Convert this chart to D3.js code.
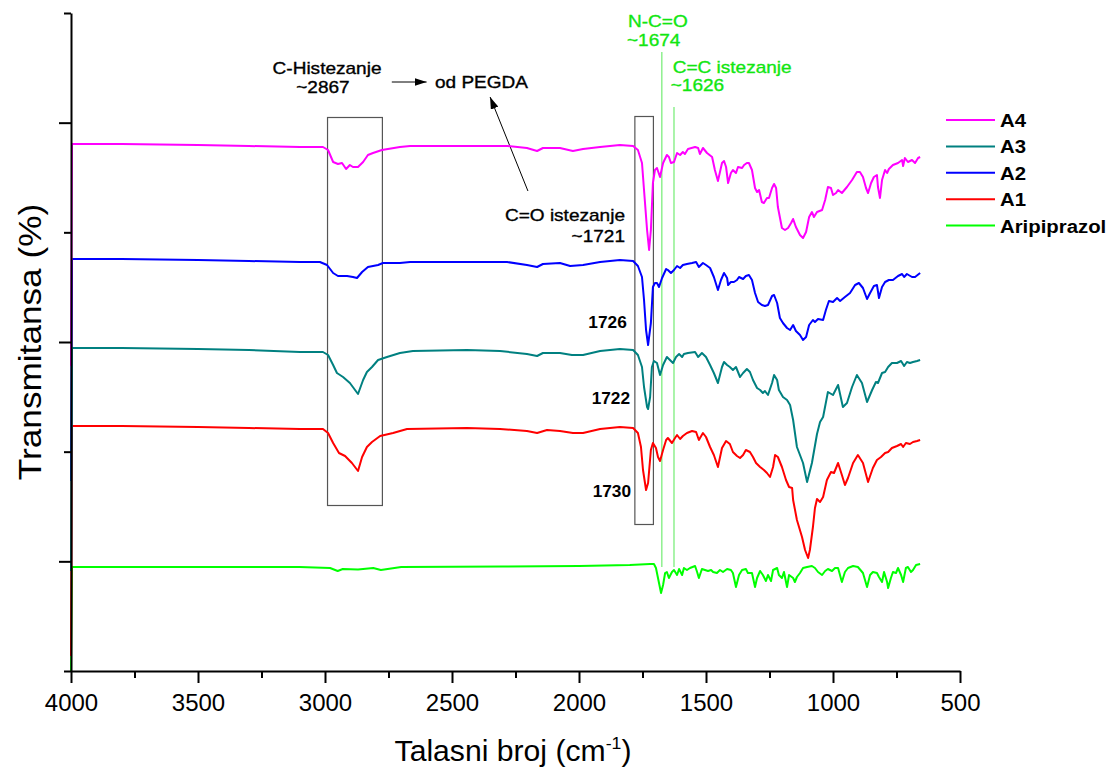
<!DOCTYPE html>
<html>
<head>
<meta charset="utf-8">
<script src="https://cdn.jsdelivr.net/npm/d3@7"></script>
<style>
  body { margin: 0; background: #fff; }
  svg { display: block; }
  text { font-family: "Liberation Sans", Arial, Helvetica, sans-serif; }
</style>
</head>
<body>
<svg id="chart" width="1112" height="772"></svg>
<script>
// ---- FTIR spectra: [wavenumber (cm-1), stacked transmittance] ----
const a4 = [
  [4000,30.5],[3996,52.7],[3800,52.7],[3500,52.6],[3300,52.5],[3098,52.4],[3008,52.4],[2988,52.1],
  [2968,50.9],[2949,50.7],[2933,50.8],[2917,50.2],[2902,50.6],[2890,50.4],[2870,50.4],[2850,50.9],
  [2831,51.6],[2811,51.8],[2776,52.1],[2705,52.4],[2665,52.5],[2441,52.5],[2283,52.5],[2205,52.3],
  [2165,52.0],[2142,52.3],[2075,52.3],[2024,52.0],[1984,52.2],[1917,52.4],[1839,52.6],[1787,52.5],
  [1768,52.1],[1752,50.8],[1744,48.1],[1732,44.1],[1724,42.1],[1717,44.1],[1709,48.8],[1701,50.1],
  [1693,50.3],[1681,49.4],[1669,50.8],[1654,51.6],[1646,51.4],[1638,50.8],[1626,50.9],[1614,51.8],
  [1602,51.6],[1591,51.9],[1583,51.7],[1571,52.2],[1543,52.4],[1531,52.3],[1524,51.7],[1512,52.3],
  [1496,51.8],[1476,51.4],[1465,50.1],[1453,49.0],[1437,50.8],[1429,51.0],[1421,50.4],[1413,48.8],
  [1402,49.8],[1394,50.1],[1382,49.8],[1374,50.4],[1358,50.3],[1350,50.6],[1339,50.8],[1331,50.8],
  [1319,50.1],[1307,48.3],[1299,47.9],[1291,48.1],[1280,46.9],[1272,46.8],[1260,47.3],[1252,47.3],
  [1240,48.3],[1232,48.7],[1224,48.3],[1217,46.4],[1201,44.3],[1189,44.1],[1177,44.3],[1165,44.8],
  [1157,45.2],[1146,44.4],[1130,43.6],[1118,43.3],[1106,43.9],[1094,45.4],[1083,45.9],[1075,45.4],
  [1063,45.9],[1043,46.1],[1031,47.1],[1020,48.4],[1008,48.3],[1000,47.6],[988,47.8],[980,48.1],
  [965,47.8],[945,48.4],[925,49.1],[906,49.9],[894,49.9],[882,49.4],[870,48.3],[862,47.8],
  [850,48.8],[839,49.4],[827,49.6],[823,48.4],[815,47.3],[807,49.1],[795,50.1],[787,49.8],
  [780,50.2],[764,50.6],[744,50.8],[728,51.1],[724,50.5],[717,51.3],[705,50.9],[689,51.1],
  [677,50.8],[665,51.3],[657,51.4]
];

const a3 = [
  [4000,10.0],[3996,32.3],[3800,32.3],[3500,32.2],[3300,32.1],[3098,31.9],[3008,31.9],[2988,31.6],
  [2968,30.6],[2953,29.8],[2929,29.4],[2902,28.8],[2870,27.7],[2850,29.1],[2835,29.9],[2815,30.4],
  [2791,31.1],[2756,31.4],[2705,31.8],[2654,32.0],[2441,32.1],[2311,32.0],[2205,31.7],[2165,31.5],
  [2142,31.8],[2075,31.8],[2028,31.6],[1984,31.6],[1917,32.0],[1839,32.2],[1787,32.1],[1768,31.6],
  [1752,30.4],[1744,28.4],[1732,26.4],[1728,26.2],[1720,27.4],[1713,30.4],[1705,31.0],[1693,30.8],
  [1681,29.6],[1669,30.6],[1654,31.4],[1646,31.2],[1630,30.8],[1618,31.4],[1606,31.7],[1594,31.4],
  [1587,31.7],[1571,31.8],[1543,31.9],[1531,31.4],[1516,31.8],[1500,31.4],[1484,30.6],[1469,29.8],
  [1453,28.8],[1437,30.4],[1429,30.9],[1417,30.6],[1406,30.4],[1394,30.1],[1382,30.4],[1366,29.4],
  [1354,29.8],[1339,30.2],[1327,29.9],[1315,29.1],[1299,28.3],[1287,28.1],[1276,27.8],[1268,28.0],
  [1256,27.6],[1240,28.8],[1232,29.6],[1220,29.1],[1213,28.1],[1197,27.4],[1181,27.1],[1169,26.6],
  [1157,25.1],[1142,22.4],[1118,20.8],[1102,18.9],[1083,20.8],[1063,23.7],[1051,24.9],[1039,25.4],
  [1020,27.9],[1000,27.6],[980,28.6],[961,26.4],[945,26.8],[925,28.4],[906,29.6],[886,28.8],
  [866,26.9],[846,28.1],[831,28.9],[823,28.8],[807,29.8],[795,29.9],[783,30.4],[768,30.8],
  [748,30.8],[732,31.0],[720,30.5],[709,30.9],[697,30.8],[685,30.9],[669,31.0],[657,31.1]
];

const a2 = [
  [4000,19.0],[3996,41.2],[3800,41.2],[3500,41.1],[3300,41.0],[3098,40.9],[3020,40.9],[2992,40.6],
  [2968,39.8],[2949,39.5],[2913,39.5],[2890,39.4],[2874,39.3],[2854,39.9],[2831,40.4],[2791,40.6],
  [2772,40.8],[2705,40.8],[2665,40.9],[2441,40.9],[2283,40.9],[2205,40.6],[2165,40.4],[2142,40.7],
  [2075,40.8],[2035,40.5],[1984,40.6],[1917,40.9],[1839,41.1],[1787,41.0],[1768,40.5],[1752,39.4],
  [1744,37.1],[1736,34.1],[1728,32.6],[1717,34.8],[1709,38.4],[1701,38.8],[1693,38.8],[1685,38.4],
  [1673,39.3],[1657,40.2],[1650,40.1],[1638,39.8],[1626,40.1],[1614,40.5],[1602,40.3],[1591,40.6],
  [1575,40.7],[1555,40.8],[1539,40.9],[1528,40.4],[1512,40.8],[1500,40.6],[1484,40.3],[1469,39.4],
  [1453,38.1],[1441,39.1],[1429,39.8],[1417,39.3],[1413,38.6],[1402,38.9],[1390,38.9],[1378,39.1],
  [1370,39.4],[1354,39.2],[1343,39.5],[1331,39.6],[1319,39.1],[1307,37.8],[1295,36.9],[1280,36.6],
  [1268,36.5],[1256,36.6],[1240,37.5],[1232,37.6],[1220,36.8],[1209,35.3],[1197,34.8],[1181,34.3],
  [1169,34.1],[1157,34.6],[1146,34.0],[1130,33.6],[1118,33.1],[1106,33.4],[1094,34.6],[1079,35.1],
  [1071,34.9],[1059,35.2],[1039,35.1],[1028,36.1],[1016,37.0],[1000,36.9],[984,37.3],[972,37.0],
  [953,37.4],[933,37.8],[913,38.6],[898,38.8],[882,38.3],[866,37.2],[854,37.8],[839,38.5],
  [827,38.6],[819,37.3],[807,38.4],[795,38.9],[780,39.1],[764,39.1],[744,39.5],[728,39.7],
  [720,39.4],[709,39.7],[689,39.4],[677,39.4],[657,39.8]
];

const a1 = [
  [4000,1.5],[3996,24.5],[3800,24.5],[3500,24.4],[3300,24.3],[3098,24.2],[3008,24.2],[2988,23.8],
  [2968,22.8],[2945,21.8],[2921,21.5],[2894,20.8],[2870,20.0],[2854,21.4],[2835,22.4],[2815,22.9],
  [2783,23.5],[2732,23.8],[2677,24.2],[2441,24.3],[2311,24.2],[2205,24.0],[2165,23.8],[2126,24.1],
  [2075,24.0],[2024,23.8],[1984,23.8],[1917,24.2],[1839,24.4],[1787,24.3],[1768,23.8],[1756,22.4],
  [1748,20.1],[1736,18.1],[1728,18.8],[1717,22.1],[1709,22.8],[1697,22.3],[1689,21.4],[1681,21.0],
  [1669,22.1],[1657,23.1],[1650,23.3],[1634,22.8],[1622,23.3],[1614,23.6],[1602,23.2],[1591,23.5],
  [1575,23.8],[1555,24.0],[1539,23.9],[1528,23.1],[1512,23.8],[1500,23.4],[1484,22.4],[1469,21.6],
  [1453,20.4],[1437,22.3],[1421,23.0],[1406,22.7],[1394,21.9],[1378,21.5],[1366,21.3],[1354,21.6],
  [1343,22.1],[1327,21.9],[1315,21.4],[1303,20.8],[1287,20.4],[1272,20.1],[1260,19.8],[1248,19.4],
  [1236,20.4],[1228,21.6],[1217,21.4],[1201,20.4],[1185,19.1],[1173,18.4],[1161,18.3],[1157,17.1],
  [1142,15.1],[1122,13.4],[1110,12.1],[1098,11.3],[1091,12.1],[1079,14.4],[1071,16.3],[1063,17.2],
  [1051,16.9],[1039,17.4],[1024,19.1],[1008,19.9],[996,19.8],[980,20.8],[965,19.6],[953,18.6],
  [941,19.3],[921,20.8],[902,21.6],[882,20.8],[862,18.9],[843,20.3],[827,21.1],[811,21.4],
  [795,21.8],[783,21.9],[768,22.3],[748,22.5],[732,22.7],[724,22.4],[713,22.8],[697,22.7],
  [685,22.9],[669,23.0],[657,23.1]
];

const aripiprazol = [
  [4000,0.0],[3996,10.4],[3800,10.4],[3500,10.4],[3300,10.4],[3100,10.4],[2980,10.3],[2950,10.0],
  [2930,10.2],[2870,10.15],[2810,10.3],[2780,10.1],[2700,10.4],[2300,10.45],[2000,10.5],[1800,10.6],
  [1720,10.7],[1705,10.7],[1697,10.3],[1689,9.3],[1677,7.8],[1669,8.6],[1661,9.8],[1654,9.9],
  [1646,9.3],[1634,9.9],[1626,10.1],[1614,9.6],[1606,10.2],[1594,9.6],[1587,10.3],[1575,10.1],
  [1563,10.3],[1543,10.5],[1535,9.9],[1528,9.3],[1516,10.2],[1504,10.1],[1492,10.0],[1480,10.1],
  [1472,9.9],[1457,9.8],[1445,10.1],[1433,9.9],[1417,10.2],[1402,10.1],[1394,9.8],[1382,8.4],
  [1370,9.6],[1358,10.1],[1343,10.2],[1335,9.8],[1319,9.8],[1307,8.4],[1299,9.3],[1287,10.0],
  [1276,9.6],[1264,9.0],[1256,9.6],[1244,9.0],[1236,10.1],[1220,10.3],[1213,9.6],[1201,9.3],
  [1193,9.9],[1181,8.4],[1173,9.6],[1157,9.3],[1150,8.9],[1142,9.4],[1130,9.8],[1118,10.3],
  [1102,10.4],[1083,10.5],[1071,10.3],[1059,9.9],[1043,9.6],[1031,10.0],[1020,10.2],[1004,10.0],
  [992,10.3],[980,10.3],[965,8.9],[953,9.9],[941,10.3],[921,10.5],[902,10.4],[882,9.8],
  [874,9.1],[866,8.4],[854,9.6],[843,9.9],[827,9.8],[819,9.4],[807,8.9],[799,9.9],
  [787,8.9],[783,8.3],[772,9.3],[764,9.9],[752,9.8],[744,10.3],[732,9.6],[724,8.9],
  [713,10.3],[705,10.4],[693,9.9],[685,10.1],[673,10.6],[657,10.7]
];

// Legend order (top to bottom); drawn in reverse so A4 sits on top
const seriesNames  = ["A4", "A3", "A2", "A1", "Aripiprazol"];
const seriesData   = [a4, a3, a2, a1, aripiprazol];
const seriesColors = ["#ff00ff", "#008080", "#0000ff", "#ff0000", "#00ff00"];

// Axes
const xDomain = [4000, 500];
const xMajorTicks = [4000, 3500, 3000, 2500, 2000, 1500, 1000, 500];
const xMinorTicks = [3750, 3250, 2750, 2250, 1750, 1250, 750];
const yDomain = [0, 65.8];
const yTickStep = 65.8 / 6;
const yTicks = d3.range(7).map(i => i * yTickStep);
const xTitle = "Talasni broj (cm";
const xTitleSup = "-1";
const yTitle = "Transmitansa (%)";

// Annotations (wavenumber / transmittance coordinates)
const boxes = [
  { from: 2992, to: 2776, top: 55.4, bottom: 16.6 },
  { from: 1782, to: 1709, top: 55.5, bottom: 14.7 }
];
const markerLines = [
  { wn: 1674, top: 61.9, bottom: 10.4 },
  { wn: 1626, top: 56.4, bottom: 10.4 }
];
const arrows = [
  { x1: 2737, y1: 58.9, x2: 2600, y2: 58.9 },
  { x1: 2201, y1: 48.0, x2: 2350, y2: 57.4 }
];
const notes = [
  { text: "C-Histezanje",   wn: 2992, t: 59.75, anchor: "middle", color: "#000", bold: false },
  { text: "~2867",          wn: 3008, t: 57.8,  anchor: "middle", color: "#000", bold: false },
  { text: "od PEGDA",       wn: 2567, t: 58.3,  anchor: "start",  color: "#000", bold: false },
  { text: "C=O istezanje",  wn: 1819, t: 45.0,  anchor: "end",    color: "#000", bold: false },
  { text: "~1721",          wn: 1819, t: 42.9,  anchor: "end",    color: "#000", bold: false },
  { text: "1726",           wn: 1812, t: 34.35, anchor: "end",    color: "#000", bold: true },
  { text: "1722",           wn: 1799, t: 26.7,  anchor: "end",    color: "#000", bold: true },
  { text: "1730",           wn: 1795, t: 17.4,  anchor: "end",    color: "#000", bold: true },
  { text: "N-C=O",          wn: 1807, t: 64.4,  anchor: "start",  color: "#11e611", bold: false },
  { text: "~1674",          wn: 1811, t: 62.55, anchor: "start",  color: "#11e611", bold: false },
  { text: "C=C istezanje",  wn: 1631, t: 59.85, anchor: "start",  color: "#11e611", bold: false },
  { text: "~1626",          wn: 1639, t: 58.05, anchor: "start",  color: "#11e611", bold: false }
];

// ---- drawing ----
const svg = d3.select("#chart");
const x = d3.scaleLinear().domain(xDomain).range([71, 960]);
const y = d3.scaleLinear().domain(yDomain).range([671, 13]);

// text with a slight horizontal stretch
function stretchedText(parent, px, py, str, opts) {
  const t = parent.append("text")
    .attr("transform", `translate(${px},${py}) scale(${opts.sx || 1},1)`)
    .attr("text-anchor", opts.anchor || "start")
    .attr("font-size", opts.size)
    .attr("font-weight", opts.bold ? "bold" : "normal")
    .attr("fill", opts.color || "#000")
    .text(str);
  if (opts.weight) {
    t.attr("stroke", opts.color || "#000").attr("stroke-width", opts.weight);
  }
  return t;
}

const defs = svg.append("defs");
defs.append("marker")
  .attr("id", "arrowHead")
  .attr("viewBox", "0 0 12 8")
  .attr("refX", 12).attr("refY", 4)
  .attr("markerWidth", 12).attr("markerHeight", 8)
  .attr("markerUnits", "userSpaceOnUse")
  .attr("orient", "auto")
  .append("path").attr("d", "M0,0 L12,4 L0,8 Z").attr("fill", "#000");

// annotation layer below the spectra
const ann = svg.append("g");
ann.selectAll("rect.box").data(boxes).join("rect")
  .attr("class", "box")
  .attr("x", d => x(d.from) + 0.5)
  .attr("y", d => y(d.top) + 0.5)
  .attr("width", d => x(d.to) - x(d.from))
  .attr("height", d => y(d.bottom) - y(d.top))
  .attr("fill", "none").attr("stroke", "#555").attr("stroke-width", 1.2);

ann.selectAll("line.marker").data(markerLines).join("line")
  .attr("class", "marker")
  .attr("x1", d => x(d.wn)).attr("x2", d => x(d.wn))
  .attr("y1", d => y(d.top)).attr("y2", d => y(d.bottom))
  .attr("stroke", "#8ef08e").attr("stroke-width", 1.5);

ann.selectAll("line.arrow").data(arrows).join("line")
  .attr("class", "arrow")
  .attr("x1", d => x(d.x1)).attr("y1", d => y(d.y1))
  .attr("x2", d => x(d.x2)).attr("y2", d => y(d.y2))
  .attr("stroke", "#000").attr("stroke-width", 1)
  .attr("marker-end", "url(#arrowHead)");

notes.forEach(n => {
  stretchedText(ann, x(n.wn), y(n.t), n.text, {
    anchor: n.anchor, size: n.bold ? 16 : 17, bold: n.bold, color: n.color,
    sx: n.bold ? 1.08 : 1.12, weight: n.bold ? 0 : 0.35
  });
});

// spectra
const line = d3.line().x(d => x(d[0])).y(d => y(d[1]));
const order = d3.range(seriesNames.length).reverse();
const curves = svg.append("g");
order.forEach(i => {
  curves.append("path")
    .datum(seriesData[i])
    .attr("d", line)
    .attr("fill", "none")
    .attr("stroke", seriesColors[i])
    .attr("stroke-width", 2)
    .attr("stroke-linejoin", "round");
});

// x axis
const xAxisG = svg.append("g").attr("transform", "translate(0,671)");
xAxisG.append("g")
  .call(d3.axisBottom(x).tickValues(xMinorTicks).tickSize(7).tickSizeOuter(0).tickFormat(""))
  .call(g => g.select(".domain").remove())
  .call(g => g.selectAll("line").attr("stroke", "#000").attr("stroke-width", 2));
xAxisG.append("g")
  .call(d3.axisBottom(x).tickValues(xMajorTicks).tickSize(12).tickSizeOuter(0).tickPadding(11).tickFormat(d3.format("d")))
  .call(g => g.select(".domain").attr("stroke", "#000").attr("stroke-width", 2))
  .call(g => g.selectAll("line").attr("stroke", "#000").attr("stroke-width", 2))
  .call(g => g.selectAll("text").attr("font-size", 24).attr("fill", "#000")
    .attr("font-family", "\"Liberation Sans\", Arial, sans-serif"));

// y axis (no labels)
const yAxisG = svg.append("g").attr("transform", "translate(71,0)");
yAxisG.append("g")
  .call(d3.axisLeft(y).tickValues(yTicks.filter((d, i) => i % 2 === 0)).tickSize(7).tickSizeOuter(0).tickFormat(""))
  .call(g => g.select(".domain").remove())
  .call(g => g.selectAll("line").attr("stroke", "#000").attr("stroke-width", 2));
yAxisG.append("g")
  .call(d3.axisLeft(y).tickValues(yTicks.filter((d, i) => i % 2 === 1)).tickSize(12).tickSizeOuter(0).tickFormat(""))
  .call(g => g.select(".domain").attr("stroke", "#000").attr("stroke-width", 2))
  .call(g => g.selectAll("line").attr("stroke", "#000").attr("stroke-width", 2));

// axis titles
const xt = svg.append("text")
  .attr("transform", "translate(513,761) scale(1.04,1)")
  .attr("text-anchor", "middle")
  .attr("font-size", 29)
  .attr("fill", "#000");
xt.append("tspan").text(xTitle);
xt.append("tspan").attr("font-size", 17).attr("dy", -12).text(xTitleSup);
xt.append("tspan").attr("dy", 12).text(")");

svg.append("text")
  .attr("transform", "translate(41,342) rotate(-90) scale(1.1,1)")
  .attr("text-anchor", "middle")
  .attr("font-size", 32)
  .attr("fill", "#000")
  .text(yTitle);

// legend
const legend = svg.append("g");
seriesNames.forEach((name, i) => {
  const ly = 120 + i * 26.4;
  legend.append("line")
    .attr("x1", 946).attr("x2", 995).attr("y1", ly).attr("y2", ly)
    .attr("stroke", seriesColors[i]).attr("stroke-width", 2);
  stretchedText(legend, 1000, ly + 7, name, { size: 18.5, bold: true, sx: 1.1 });
});
</script>
</body>
</html>
